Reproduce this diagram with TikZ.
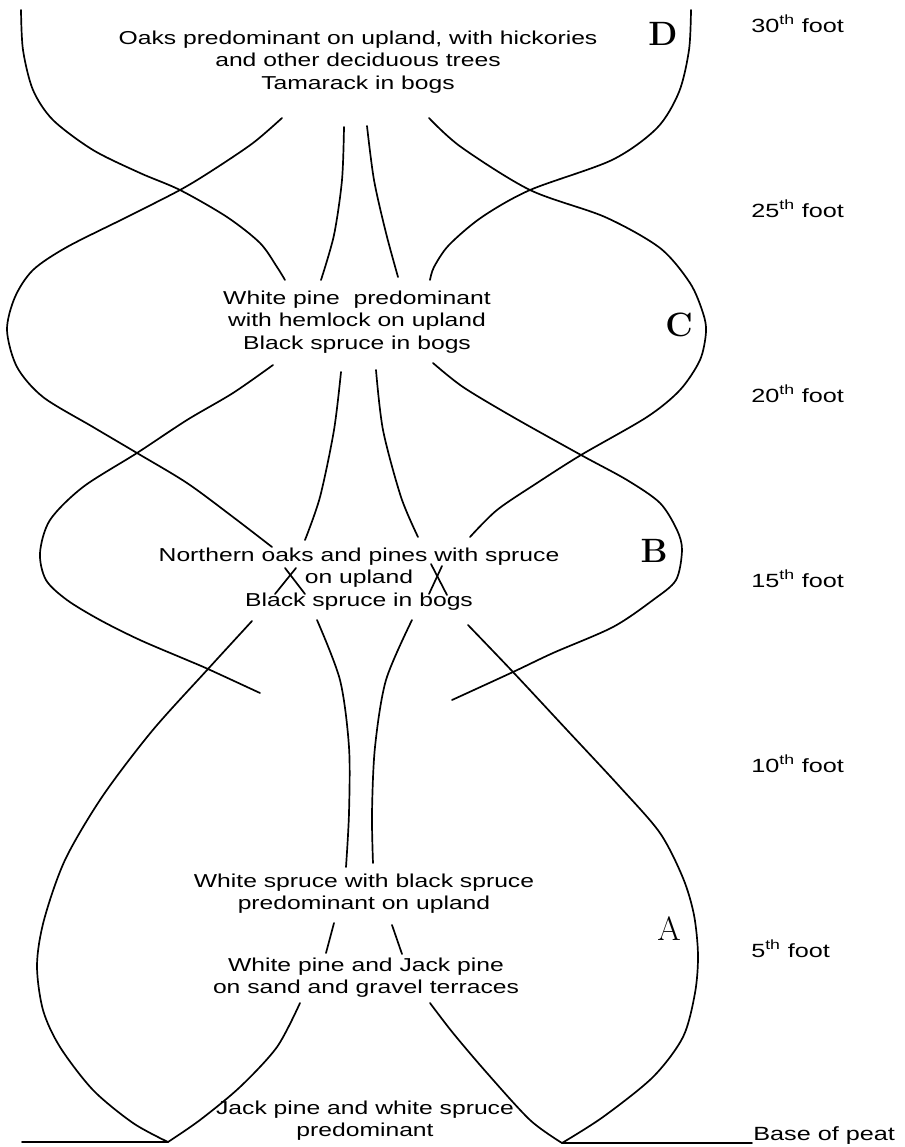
\documentclass[tikz,border=0pt]{standalone}
\usepackage{fontspec}
\newfontfamily\handfont{Liberation Sans}[FakeStretch=1.32]

\begin{document}
\begin{tikzpicture}[x=0.25mm, y=-0.25mm,
  curve/.style={line width=1.2pt, line cap=round},
  zone/.style={align=center, inner sep=0pt, font=\handfont\fontsize{13.3}{15.8}\selectfont},
  depth/.style={anchor=base west, inner sep=0pt, font=\handfont\fontsize{13.6}{15}\selectfont},
  phase/.style={inner sep=0pt, font=\fontsize{24}{24}\selectfont\bfseries},
  phaseA/.style={inner sep=0pt, font=\fontsize{24}{24}\selectfont}
]
  \useasboundingbox (0,0) rectangle (904,1147);

  % Basis
  \coordinate (vl) at (168,1142);
  \coordinate (vr) at (562,1143);

  % Texte
  \node[zone] (txtD) at (358,62) {Oaks predominant on upland, with hickories\\and other deciduous trees\\Tamarack in bogs};
  \node[zone] (txtC) at (357,322) {White pine\ \ predominant\\with hemlock on upland\\Black spruce in bogs};
  \node[zone] (txtB) at (359,579) {Northern oaks and pines with spruce\\on upland\\Black spruce in bogs};
  \node[zone] (txtA) at (364,894) {White spruce with black spruce\\predominant on upland};
  \node[zone] (txtSand) at (366,978) {White pine and Jack pine\\on sand and gravel terraces};
  \node[zone] (txtBase) at (365,1121) {Jack pine and white spruce\\predominant};

  % Buchstaben
  \node[phase] (lblD) at (663,34) {D};
  \node[phase] (lblC) at (679,325) {C};
  \node[phase] (lblB) at (654,551) {B};
  \node[phaseA] (lblA) at (669,929) {A};

  % Tiefen
  \foreach \k/\n in {1/5,2/10,3/15,4/20,5/25,6/30}
    \node[depth] (foot\n) at (751,{1142-185*\k}) {\n\textsuperscript{th}\ foot};
  \node[depth] (base) at (753,1140) {Base of peat};

  % Grundlinie
  \draw[curve] (22,1142) -- (vl);
  \draw[curve] (vr) -- (752,1143);

  % Kurven links
  \draw[curve] plot[smooth] coordinates {(21,10) (23,50) (33,90) (53,120) (93,150) (140,173) (180,190) (227,217) (260,243) (277,267) (285,280)};
  \draw[curve] plot[smooth] coordinates {(282,118) (253,143) (213,170) (180,190) (127,217) (67,247) (33,270) (15,297) (7,330) (17,367) (43,397) (93,427) (137,453) (187,483) (233,517) (272,547)};
  \draw[curve] plot[smooth] coordinates {(273,365) (233,393) (187,420) (137,453) (83,487) (50,520) (40,553) (46,580) (67,600) (100,620) (140,640) (187,660) (208,669) (260,693)};
  \draw[curve] plot[smooth] coordinates {(252,621) (208,669) (152,731) (102,797) (65,860) (44,920) (37,965) (43,1010) (60,1047) (93,1090) (133,1123) (vl)};
  \draw[curve] plot[smooth] coordinates {(vl) (200,1120) (240,1087) (277,1047) (300,1003)};

  % Kurven rechts
  \draw[curve] plot[smooth] coordinates {(691,10) (689,50) (679,92) (657,128) (612,160) (530,190) (482,217) (449,245) (434,267) (430,280)};
  \draw[curve] plot[smooth] coordinates {(429,118) (461,147) (530,190) (605,217) (660,248) (690,283) (703,313) (706,332) (700,360) (680,390) (647,417) (581,455) (537,483) (497,510) (470,537)};
  \draw[curve] plot[smooth] coordinates {(433,363) (463,387) (513,417) (581,455) (627,480) (660,503) (677,530) (682,550) (676,580) (653,600) (613,627) (553,653) (513,672) (452,700)};
  \draw[curve] plot[smooth] coordinates {(468,625) (513,672) (567,730) (620,787) (660,833) (683,878) (694,915) (698,955) (695,993) (683,1037) (653,1077) (603,1117) (vr)};
  \draw[curve] plot[smooth] coordinates {(vr) (530,1120) (487,1073) (453,1033) (430,1003)};

  % Mitte
  \draw[curve] plot[smooth] coordinates {(344,127) (342,180) (334,235) (321,280)};
  \draw[curve] plot[smooth] coordinates {(367,126) (374,180) (386,233) (398,277)};
  \draw[curve] plot[smooth] coordinates {(341,372) (334,430) (320,497) (305,540)};
  \draw[curve] plot[smooth] coordinates {(376,370) (383,430) (401,497) (418,537)};
  \draw[curve] plot[smooth] coordinates {(317,620) (340,680) (349,747) (349,813) (346,867)};
  \draw[curve] plot[smooth] coordinates {(412,620) (386,680) (375,747) (372,813) (373,863)};
  \draw[curve] (334,923) -- (326,953);
  \draw[curve] (392,925) -- (402,954);

  % Kreuze
  \draw[curve] (285,568) -- (305,594);
  \draw[curve] (296,568) -- (275,594);
  \draw[curve] (431,564) -- (447,595);
  \draw[curve] (442,566) -- (429,594);
\end{tikzpicture}
\end{document}
